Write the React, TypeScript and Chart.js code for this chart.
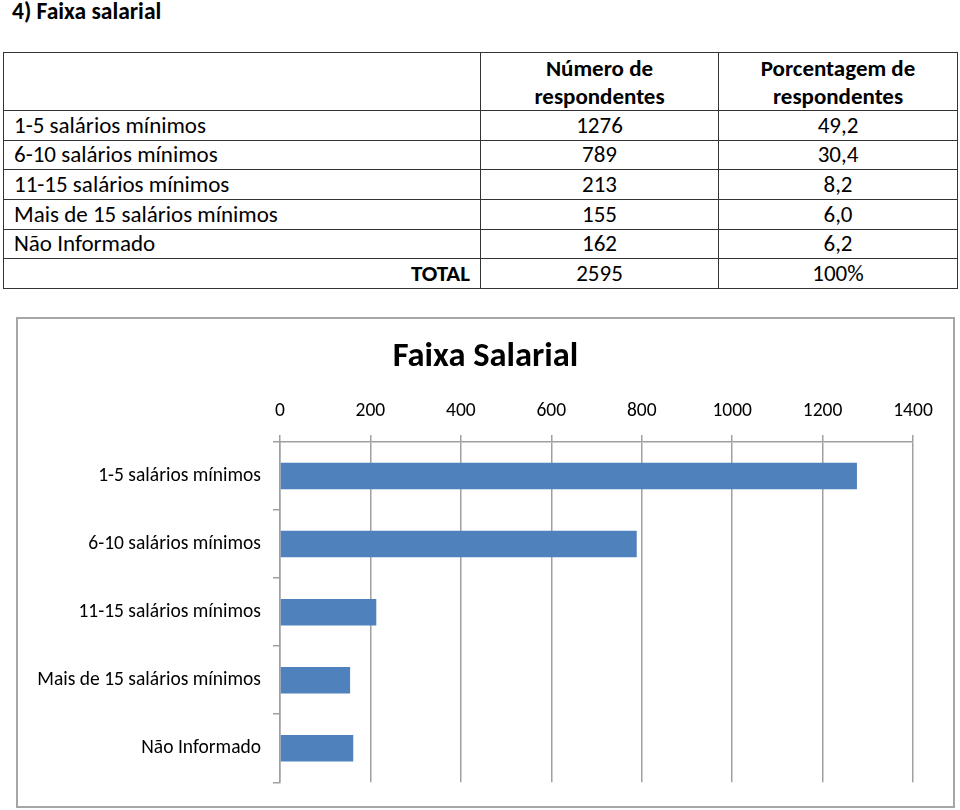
import React, { useEffect, useRef } from "react";
import { Chart, registerables } from "chart.js";

Chart.register(...registerables);

const FONT = "Carlito, Calibri, Lato, sans-serif";

const pageTitle = "4) Faixa salarial";
const headers = ["", "Número de\nrespondentes", "Porcentagem de\nrespondentes"];
const categories = [
  "1-5 salários mínimos",
  "6-10 salários mínimos",
  "11-15 salários mínimos",
  "Mais de 15 salários mínimos",
  "Não Informado",
];
const counts = [1276, 789, 213, 155, 162];
const percents = ["49,2", "30,4", "8,2", "6,0", "6,2"];
const totalLabel = "TOTAL";
const totalCount = "2595";
const totalPercent = "100%";
const chartTitle = "Faixa Salarial";
const xMin = 0;
const xMax = 1400;
const xStep = 200;

const GRID = "#a0a0a0";

function SalaryChart() {
  const ref = useRef<HTMLCanvasElement | null>(null);
  useEffect(() => {
    if (!ref.current) return;
    const chart = new Chart(ref.current, {
      type: "bar",
      data: {
        labels: categories,
        datasets: [
          {
            data: counts,
            backgroundColor: "#4F81BD",
            borderWidth: 0,
            barPercentage: 0.39,
            categoryPercentage: 1,
          },
        ],
      },
      options: {
        indexAxis: "y",
        animation: false,
        responsive: false,
        maintainAspectRatio: false,
        color: "#000",
        layout: { padding: { left: 0, right: 0, top: 0, bottom: 18 } },
        plugins: {
          legend: { display: false },
          tooltip: { enabled: false },
          title: {
            display: true,
            text: chartTitle,
            color: "#000",
            font: { family: FONT, size: 34.5, weight: "bold" },
            padding: { top: 18, bottom: 10 },
          },
        },
        scales: {
          x: {
            position: "top",
            min: xMin,
            max: xMax,
            ticks: {
              stepSize: xStep,
              color: "#000",
              padding: 12,
              font: { family: FONT, size: 19.5 },
              callback: (v: any) => String(v),
            },
            grid: { color: GRID, lineWidth: 1.5, tickLength: 7, drawTicks: true },
            border: { display: true, color: GRID, width: 1.5 },
            afterFit: (s: any) => {
              s.height = 53.6;
              s.paddingRight = 40;
            },
          },
          y: {
            ticks: {
              color: "#000",
              padding: 12,
              font: { family: FONT, size: 19.5 },
            },
            grid: {
              drawOnChartArea: false,
              drawTicks: true,
              tickLength: 7,
              color: GRID,
              lineWidth: 1.5,
            },
            border: { display: true, color: GRID, width: 1.5 },
            afterFit: (s: any) => {
              s.width = 262;
            },
          },
        },
      },
    });
    return () => chart.destroy();
  }, []);
  return <canvas ref={ref} width={935} height={487} style={{ display: "block", width: 935, height: 487 }} />;
}

export default function App() {
  const cellBase: React.CSSProperties = {
    border: "1.5px solid #333",
    padding: "0 10px",
    fontFamily: FONT,
    fontSize: 23,
    color: "#000",
    height: 29.67,
    boxSizing: "border-box",
    lineHeight: "27px",
    whiteSpace: "nowrap",
  };
  return (
    <div style={{ position: "absolute", left: 0, top: 0, width: 960, height: 810, background: "#fff" }}>
      <div
        style={{
          position: "absolute",
          left: 12,
          top: -1,
          fontFamily: FONT,
          fontWeight: "bold",
          fontSize: 23.5,
          lineHeight: "24px",
          color: "#000",
        }}
      >
        {pageTitle}
      </div>
      <table
        style={{
          position: "absolute",
          left: 3,
          top: 52,
          width: 954,
          borderCollapse: "collapse",
          tableLayout: "fixed",
        }}
      >
        <colgroup>
          <col style={{ width: 477 }} />
          <col style={{ width: 238 }} />
          <col style={{ width: 239 }} />
        </colgroup>
        <tbody>
          <tr>
            {headers.map((h, i) => (
              <td
                key={i}
                style={{
                  ...cellBase,
                  height: 58,
                  textAlign: "center",
                  fontWeight: "bold",
                  lineHeight: "28px",
                  whiteSpace: "pre-line",
                }}
              >
                {h}
              </td>
            ))}
          </tr>
          {categories.map((c, i) => (
            <tr key={c}>
              <td style={{ ...cellBase, textAlign: "left" }}>{c}</td>
              <td style={{ ...cellBase, textAlign: "center" }}>{counts[i]}</td>
              <td style={{ ...cellBase, textAlign: "center" }}>{percents[i]}</td>
            </tr>
          ))}
          <tr>
            <td style={{ ...cellBase, textAlign: "right", fontWeight: "bold" }}>{totalLabel}</td>
            <td style={{ ...cellBase, textAlign: "center" }}>{totalCount}</td>
            <td style={{ ...cellBase, textAlign: "center" }}>{totalPercent}</td>
          </tr>
        </tbody>
      </table>
      <div
        style={{
          position: "absolute",
          left: 16,
          top: 317,
          width: 939,
          height: 491,
          border: "2px solid #a6a6a6",
          boxSizing: "border-box",
          background: "#fff",
        }}
      >
        <SalaryChart />
      </div>
    </div>
  );
}
